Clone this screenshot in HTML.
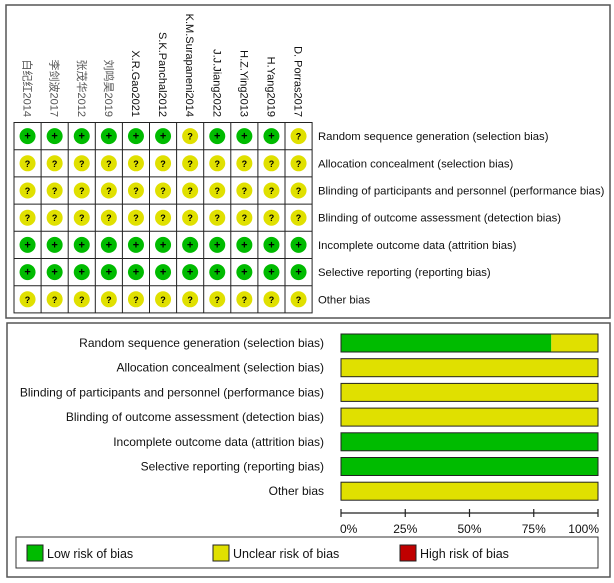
<!DOCTYPE html>
<html><head><meta charset="utf-8"><style>
html,body{margin:0;padding:0;background:#fff;}
svg{display:block;font-family:"Liberation Sans","Noto Sans CJK SC",sans-serif;}
</style></head><body>
<svg id="c" width="614" height="583" viewBox="0 0 614 583" xmlns="http://www.w3.org/2000/svg">
<rect x="6" y="5" width="604" height="313" fill="#fff" stroke="#555" stroke-width="1.5"/>
<rect x="7" y="323" width="603" height="254" fill="#fff" stroke="#555" stroke-width="1.5"/>
<g id="grid"></g>
<g id="bars"></g>
<g id="legend">
<rect x="16" y="537" width="582" height="31" fill="#fff" stroke="#333" stroke-width="1"/>
</g>
</svg>
<script>
const studies=["白纪红2014","李剑波2017","张茂华2012","刘鸣昊2019","X.R.Gao2021","S.K.Panchal2012","K.M.Surapaneni2014","J.J.Jiang2022","H.Z.Ying2013","H.Yang2019","D. Porras2017"];
const domains=["Random sequence generation (selection bias)","Allocation concealment (selection bias)","Blinding of participants and personnel (performance bias)","Blinding of outcome assessment (detection bias)","Incomplete outcome data (attrition bias)","Selective reporting (reporting bias)","Other bias"];
const judgements=[
"++++++?+++?",
"???????????",
"???????????",
"???????????",
"+++++++++++",
"+++++++++++",
"???????????"];
const ticks=["0%","25%","50%","75%","100%"];
const legendLabels=["Low risk of bias","Unclear risk of bias","High risk of bias"];
const GREEN="#00bb00",YEL="#e0e000",RED="#c00000";
const NS="http://www.w3.org/2000/svg";
function mk(t,a,p){const e=document.createElementNS(NS,t);for(const k in a)e.setAttribute(k,a[k]);p.appendChild(e);return e;}
const grid=document.getElementById('grid');
const gx0=14,cw=27.1,gy0=122.5,rh=27.2;
const colX=i=>gx0+i*cw, rowY=j=>gy0+j*rh;
studies.forEach((s,i)=>{
  const t=mk('text',{x:0,y:0,'font-size':11,fill:/[0-9A-Za-z]/.test(s[0])?'#111':'#555','text-anchor':'end',transform:`translate(${colX(i)+cw/2-4},117) rotate(90)`},grid);
  t.textContent=s;
  
  
});
mk('rect',{x:gx0,y:gy0,width:cw*studies.length,height:rh*domains.length,fill:'none',stroke:'#222','stroke-width':1},grid);
for(let i=1;i<studies.length;i++){mk('line',{x1:colX(i),x2:colX(i),y1:gy0,y2:rowY(domains.length),stroke:'#222','stroke-width':1},grid);}
for(let j=1;j<domains.length;j++){mk('line',{x1:gx0,x2:colX(studies.length),y1:rowY(j),y2:rowY(j),stroke:'#222','stroke-width':1},grid);}
domains.forEach((d,j)=>{
  const t=mk('text',{x:318,y:rowY(j)+rh/2+4,'font-size':11.3,fill:'#111'},grid);
  t.textContent=d;
  
  
  for(let i=0;i<studies.length;i++){
    const v=judgements[j][i];
    const cx=colX(i)+cw/2,cy=rowY(j)+rh/2;
    const c=mk('circle',{cx:cx,cy:cy,r:8,fill:v==='+'?GREEN:v==='-'?RED:YEL},grid);
    
    
    const s=mk('text',{x:cx,y:cy+3.5,'font-size':v==='?'?9:11,'font-weight':'bold','text-anchor':'middle',fill:'#000'},grid);
    s.textContent=v;
  }
});
const bars=document.getElementById('bars');
const bx0=341,bx1=598,by0=334,bp=24.7,bh=18;
const xs=f=>bx0+(bx1-bx0)*f;
domains.forEach((d,j)=>{
  const y=by0+j*bp;
  const t=mk('text',{x:324,y:y+bh/2+4,'font-size':12,fill:'#111','text-anchor':'end'},bars);
  t.textContent=d;
  
  
  let lo=0,un=0,hi=0;
  for(const ch of judgements[j]){if(ch==='+')lo++;else if(ch==='-')hi++;else un++;}
  const n=studies.length;let acc=0;
  [[lo,GREEN],[un,YEL],[hi,RED]].forEach(([k,col])=>{
    if(!k)return;
    const r=mk('rect',{x:xs(acc/n),y:y,width:xs((acc+k)/n)-xs(acc/n),height:bh,fill:col},bars);
    
    
    acc+=k;
  });
  mk('rect',{x:bx0,y:y,width:bx1-bx0,height:bh,fill:'none',stroke:'#222','stroke-width':1},bars);
});
mk('line',{x1:bx0,x2:bx1,y1:513,y2:513,stroke:'#222','stroke-width':1.2},bars);
ticks.forEach((tk,i)=>{
  const x=xs(i/(ticks.length-1));
  mk('line',{x1:x,x2:x,y1:509,y2:517,stroke:'#222','stroke-width':1.2},bars);
  const t=mk('text',{x:i===0?x-1:i===ticks.length-1?x+1:x,y:533,'font-size':12,fill:'#111','text-anchor':i===0?'start':i===ticks.length-1?'end':'middle'},bars);
  t.textContent=tk;
  
  
});
const lg=document.getElementById('legend');
const lx=[27,213,400],lc=[GREEN,YEL,RED];
legendLabels.forEach((s,i)=>{
  const r=mk('rect',{x:lx[i],y:545,width:16,height:16,fill:lc[i],stroke:'#222','stroke-width':1},lg);
  
  
  const t=mk('text',{x:lx[i]+20,y:558,'font-size':12.5,fill:'#111'},lg);
  t.textContent=s;
  
  
});
</script>
</body></html>
